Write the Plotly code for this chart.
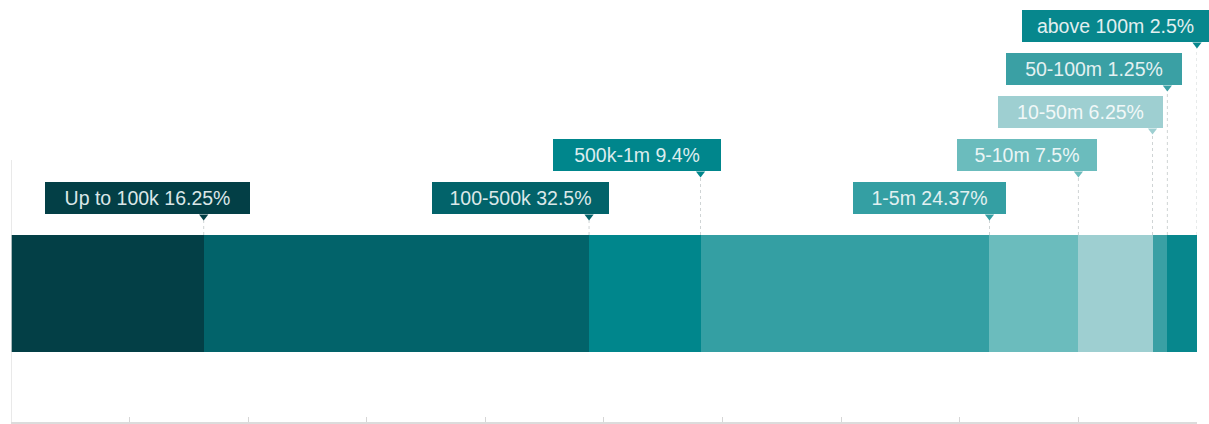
import plotly.graph_objects as go

# ---- data ----
categories = ["Up to 100k", "100-500k", "500k-1m", "1-5m", "5-10m", "10-50m", "50-100m", "above 100m"]
shares = [16.25, 32.5, 9.4, 24.37, 7.5, 6.25, 1.25, 2.5]
label_texts = [f"{c} {v:g}%" for c, v in zip(categories, shares)]

# ---- styles ----
colors = ["#033f46", "#02636a", "#00868c", "#349fa3", "#6bbcbd", "#9ecfd1", "#3aa0a4", "#07878d"]
text_colors = ["#dbe7e8", "#dbe8e9", "#dcecee", "#e2f0f1", "#eaf5f5", "#f1f8f8", "#e4f1f2", "#e2eff0"]
box_widths = [205, 177, 168, 153, 140, 165, 176, 187]   # px
box_right_offsets = [46, 20, 20, 17, 19, 10, 15, 12]    # px right of pointer

W, H = 1209, 424
ML, MR, MT, MB = 11, 12, 0, 2
plot_w = W - ML - MR
plot_h = H - MT - MB
XMAX = sum(shares)

def px(v):
    return ML + v / XMAX * plot_w

# bar geometry in y units (y axis range == pixels from bottom of plot area)
bar_bottom, bar_top = 70, 187
row_base, row_step, box_h = 208, 43, 32

cum = []
s = 0
for v in shares:
    s += v
    cum.append(s)

# stacking: each label sits one row above the highest earlier label it overlaps
placed = []  # (left, right, row)
rows = []
for i, c in enumerate(cum):
    right = px(c) + box_right_offsets[i]
    left = right - box_widths[i]
    r = 0
    for l, rr, row in placed:
        if not (right <= l or left >= rr):
            r = max(r, row + 1)
    placed.append((left, right, r))
    rows.append(r)

fig = go.Figure()
ymid = (bar_bottom + bar_top) / 2
for i, (cat, v) in enumerate(zip(categories, shares)):
    fig.add_trace(go.Bar(
        x=[v], y=[ymid], orientation="h", width=bar_top - bar_bottom,
        marker=dict(color=colors[i], line=dict(width=0)),
        name=cat, showlegend=False, hoverinfo="skip",
    ))

shapes = []
annotations = []
tri_x, tri_y, tri_c = [], [], []
for i, c in enumerate(cum):
    yb = row_base + rows[i] * row_step
    # dotted leader line
    shapes.append(dict(type="line", xref="x", yref="y", x0=c, x1=c, y0=bar_top, y1=yb - 5,
                       line=dict(color="#cfd4d5", width=1, dash="dot"), layer="below"))
    annotations.append(dict(
        x=c, y=yb, xref="x", yref="y", xanchor="right", yanchor="bottom",
        xshift=box_right_offsets[i], text=label_texts[i], showarrow=False,
        width=box_widths[i], height=box_h, align="center", valign="middle",
        bgcolor=colors[i], borderpad=0, borderwidth=0,
        font=dict(family="Liberation Sans, Arial, sans-serif", size=19.5, color=text_colors[i]),
    ))
    tri_x.append(c)
    tri_y.append(yb - 2.5)
    tri_c.append(colors[i])

fig.add_trace(go.Scatter(x=tri_x, y=tri_y, mode="markers",
                         marker=dict(symbol="triangle-down", size=8, color=tri_c, line=dict(width=0)),
                         showlegend=False, hoverinfo="skip", cliponaxis=False))

# left axis line
shapes.append(dict(type="line", xref="x", yref="y", x0=0, x1=0, y0=0, y1=262,
                   line=dict(color="#e2e2e2", width=1.5)))

fig.update_layout(
    width=W, height=H,
    margin=dict(l=ML, r=MR, t=MT, b=MB, autoexpand=False),
    paper_bgcolor="white", plot_bgcolor="white",
    barmode="stack", showlegend=False,
    shapes=shapes, annotations=annotations,
    xaxis=dict(range=[0, XMAX], dtick=10, tick0=0, showgrid=False, zeroline=False,
               showline=True, linecolor="#dcdcdc", linewidth=1.5,
               ticks="inside", ticklen=5, tickcolor="#d6d6d6", showticklabels=False, fixedrange=True),
    yaxis=dict(range=[0, plot_h], showgrid=False, zeroline=False, showline=False,
               showticklabels=False, ticks="", fixedrange=True),
)

fig.write_html("out.html", config={"displayModeBar": False},
               post_script="document.body.style.margin='0';document.body.style.overflow='hidden';")
